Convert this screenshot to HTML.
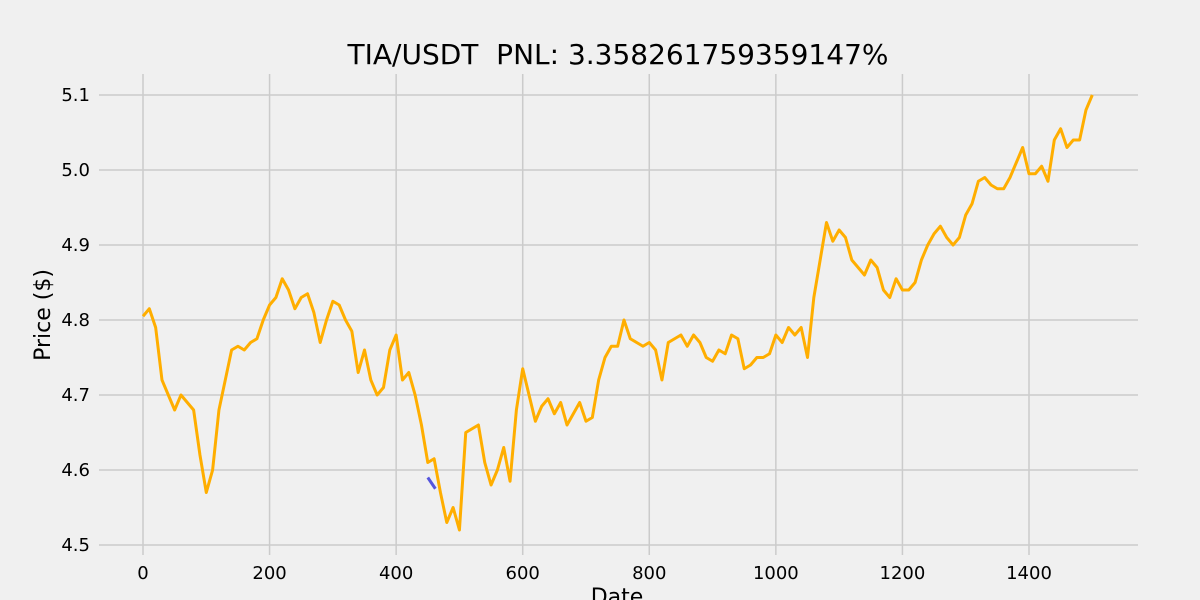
<!DOCTYPE html>
<html><head><meta charset="utf-8"><style>
body{margin:0;background:#f0f0f0;}
svg{display:block;font-family:"DejaVu Sans","Liberation Sans",sans-serif;}
</style></head><body>
<svg id="chart" width="1200" height="600">
<rect width="1200" height="600" fill="#f0f0f0"/>
<g id="grid"></g><g id="ticks"></g><g id="series"></g>
<text x="618" y="64" text-anchor="middle" font-size="28" fill="#000" style="white-space:pre">TIA/USDT  PNL: 3.358261759359147%</text>
<text x="50" y="315" text-anchor="middle" font-size="22" transform="rotate(-90 50 315)">Price ($)</text>
<text x="617" y="604" text-anchor="middle" font-size="22">Date</text>
</svg>
<script>
const xTicks=[0,200,400,600,800,1000,1200,1400];
const yTicks=[4.5,4.6,4.7,4.8,4.9,5.0,5.1];
const yTickLabels=["4.5","4.6","4.7","4.8","4.9","5.0","5.1"];
const step=10;
const prices=[4.805,4.815,4.79,4.72,4.70,4.68,4.70,4.69,4.68,4.62,4.57,4.60,4.68,4.72,4.76,4.765,4.76,4.77,4.775,4.80,
4.82,4.83,4.855,4.84,4.815,4.83,4.835,4.81,4.77,4.80,4.825,4.82,4.80,4.785,4.73,4.76,4.72,4.70,4.71,4.76,
4.78,4.72,4.73,4.70,4.66,4.61,4.615,4.57,4.53,4.55,4.52,4.65,4.655,4.66,4.61,4.58,4.60,4.63,4.585,4.68,
4.735,4.70,4.665,4.685,4.695,4.675,4.69,4.66,4.675,4.69,4.665,4.67,4.72,4.75,4.765,4.765,4.80,4.775,4.77,4.765,
4.77,4.76,4.72,4.77,4.775,4.78,4.765,4.78,4.77,4.75,4.745,4.76,4.755,4.78,4.775,4.735,4.74,4.75,4.75,4.755,
4.78,4.77,4.79,4.78,4.79,4.75,4.83,4.88,4.93,4.905,4.92,4.91,4.88,4.87,4.86,4.88,4.87,4.84,4.83,4.855,
4.84,4.84,4.85,4.88,4.90,4.915,4.925,4.91,4.90,4.91,4.94,4.955,4.985,4.99,4.98,4.975,4.975,4.99,5.01,5.03,
4.995,4.995,5.005,4.985,5.04,5.055,5.03,5.04,5.04,5.08,5.10];
const tradeX=[450,462];
const tradeY=[4.59,4.575];
const X=v=>143+v*(886/1400);
const Y=v=>95+(5.1-v)*750;
const NS="http://www.w3.org/2000/svg";
const g=document.getElementById('grid'),t=document.getElementById('ticks'),s=document.getElementById('series');
xTicks.forEach(v=>{
 const l=document.createElementNS(NS,'line');
 l.setAttribute('x1',X(v));l.setAttribute('x2',X(v));l.setAttribute('y1',74);l.setAttribute('y2',555);
 l.setAttribute('stroke','#cbcbcb');l.setAttribute('stroke-width','1.5');
 
 
 g.appendChild(l);
 const tx=document.createElementNS(NS,'text');
 tx.setAttribute('x',X(v));tx.setAttribute('y',579);tx.setAttribute('text-anchor','middle');tx.setAttribute('font-size','18');
 tx.textContent=v;
 
 
 t.appendChild(tx);
});
yTicks.forEach((v,i)=>{
 const l=document.createElementNS(NS,'line');
 l.setAttribute('x1',99);l.setAttribute('x2',1138);l.setAttribute('y1',Y(v));l.setAttribute('y2',Y(v));
 l.setAttribute('stroke','#cbcbcb');l.setAttribute('stroke-width','1.5');
 
 
 g.appendChild(l);
 const tx=document.createElementNS(NS,'text');
 tx.setAttribute('x',90);tx.setAttribute('y',Y(v)+6);tx.setAttribute('text-anchor','end');tx.setAttribute('font-size','18');
 tx.textContent=yTickLabels[i];
 
 
 t.appendChild(tx);
});
const p=document.createElementNS(NS,'polyline');
p.setAttribute('points',prices.map((v,i)=>X(i*step)+','+Y(v)).join(' '));
p.setAttribute('fill','none');p.setAttribute('stroke','#ffae00');p.setAttribute('stroke-width','3');p.setAttribute('stroke-linejoin','round');


s.appendChild(p);
const b=document.createElementNS(NS,'polyline');
b.setAttribute('points',tradeX.map((v,i)=>X(v)+','+Y(tradeY[i])).join(' '));
b.setAttribute('fill','none');b.setAttribute('stroke','#5555dd');b.setAttribute('stroke-width','3');


s.appendChild(b);
</script>
</body></html>
